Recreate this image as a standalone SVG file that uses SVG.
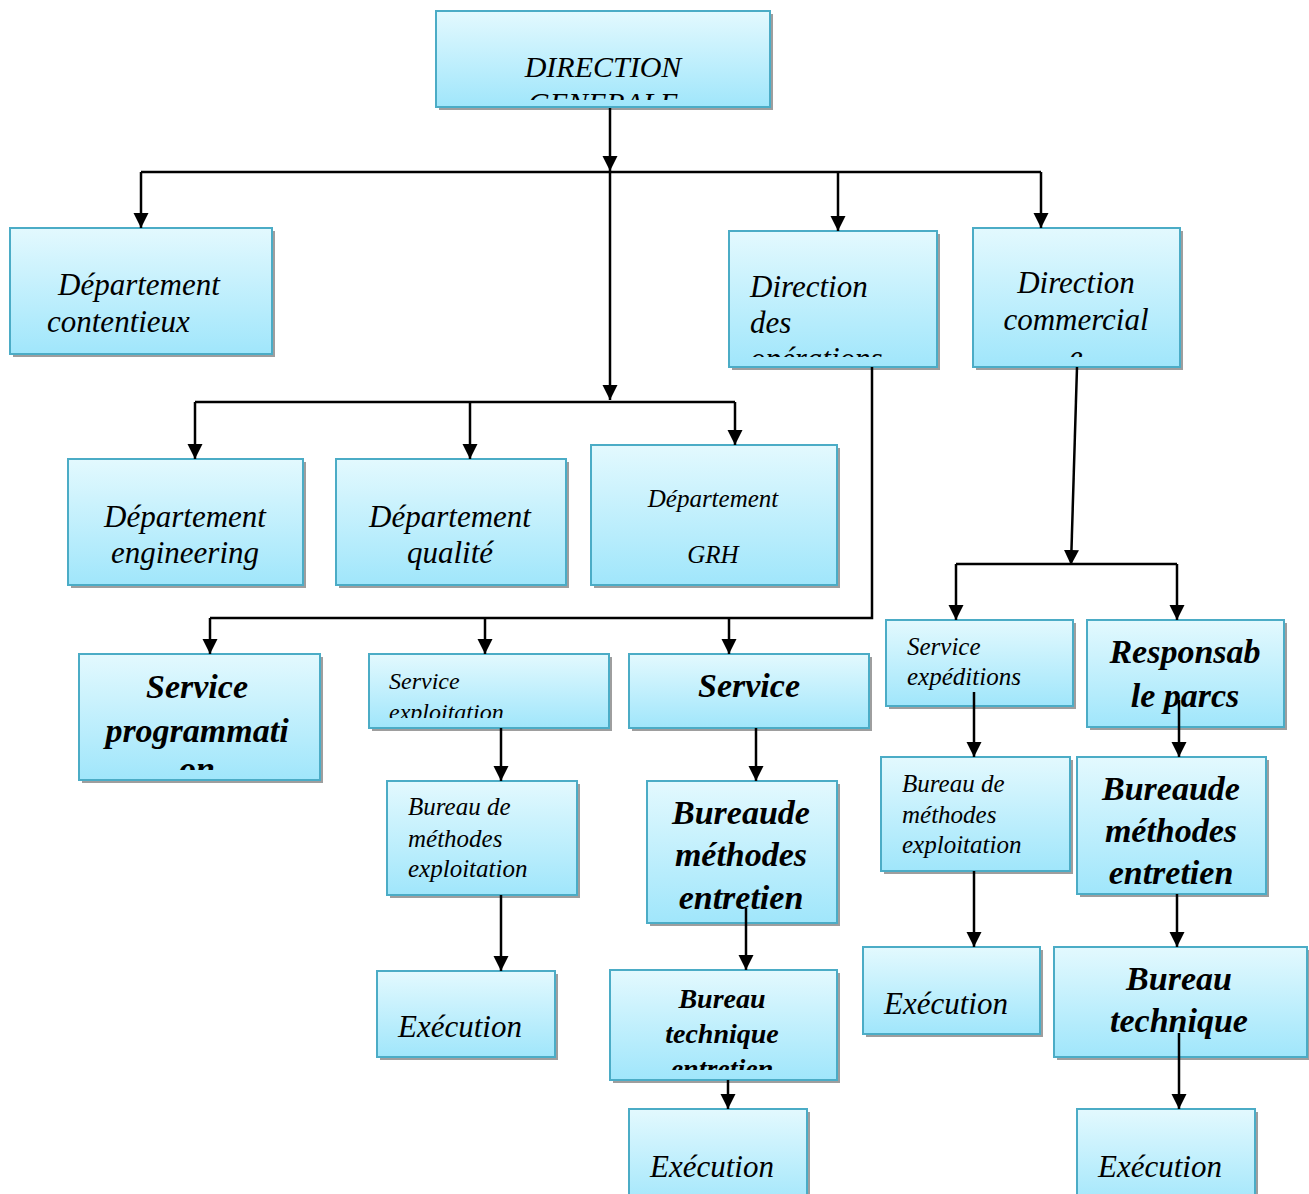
<svg xmlns="http://www.w3.org/2000/svg" width="1309" height="1194" viewBox="0 0 1309 1194">
<style>
.bx{fill:url(#g);stroke:#4bacc6;stroke-width:2}
.sh{fill:#9e9e9e}
.t{font-family:"Liberation Serif","Times New Roman",serif;font-style:italic;fill:#000}
.b{font-weight:bold}
.c{text-anchor:middle}
.ln{fill:none;stroke:#000;stroke-width:2.5}
.ar{marker-end:url(#a)}
</style>
<defs>
<linearGradient id="g" x1="0" y1="0" x2="0" y2="1">
<stop offset="0" stop-color="#e3f9fe"/>
<stop offset="1" stop-color="#a0e6fb"/>
</linearGradient>
<marker id="a" markerUnits="userSpaceOnUse" markerWidth="16" markerHeight="16" refX="15" refY="8" orient="auto">
<path d="M0,0.5 L15,8 L0,15.5 z" fill="#000"/>
</marker>
<clipPath id="cDG"><rect x="436" y="11" width="334" height="89"/></clipPath>
<clipPath id="cDO"><rect x="729" y="231" width="208" height="126"/></clipPath>
<clipPath id="cDC"><rect x="973" y="228" width="207" height="129"/></clipPath>
<clipPath id="cSP"><rect x="79" y="654" width="241" height="116"/></clipPath>
<clipPath id="cSE"><rect x="369" y="654" width="240" height="64"/></clipPath>
<clipPath id="cBT"><rect x="610" y="970" width="227" height="100"/></clipPath>
</defs>
<rect width="1309" height="1194" fill="#fff"/>

<g id="direction-generale">
<rect class="sh" x="439" y="14" width="334" height="96"/>
<rect class="bx" x="436" y="11" width="334" height="96"/>
<g clip-path="url(#cDG)">
<text class="t c" x="603" y="77" font-size="30">DIRECTION</text>
<text class="t c" x="603" y="113" font-size="30">GENERALE</text>
</g>
</g>

<g id="dep-contentieux">
<rect class="sh" x="13" y="231" width="262" height="126"/>
<rect class="bx" x="10" y="228" width="262" height="126"/>
<text class="t" x="58" y="295" font-size="31">Département</text>
<text class="t" x="47" y="332" font-size="31">contentieux</text>
</g>

<g id="direction-operations">
<rect class="sh" x="732" y="234" width="208" height="136"/>
<rect class="bx" x="729" y="231" width="208" height="136"/>
<g clip-path="url(#cDO)">
<text class="t" x="750" y="297" font-size="31">Direction</text>
<text class="t" x="750" y="333" font-size="31">des</text>
<text class="t" x="750" y="369" font-size="31">opérations</text>
</g>
</g>

<g id="direction-commerciale">
<rect class="sh" x="976" y="231" width="207" height="139"/>
<rect class="bx" x="973" y="228" width="207" height="139"/>
<g clip-path="url(#cDC)">
<text class="t c" x="1076" y="293" font-size="31">Direction</text>
<text class="t c" x="1076" y="330" font-size="31">commercial</text>
<text class="t c" x="1076" y="367" font-size="31">e</text>
</g>
</g>

<g id="dep-engineering">
<rect class="sh" x="71" y="462" width="235" height="126"/>
<rect class="bx" x="68" y="459" width="235" height="126"/>
<text class="t c" x="185" y="527" font-size="31">Département</text>
<text class="t c" x="185" y="563" font-size="31">engineering</text>
</g>

<g id="dep-qualite">
<rect class="sh" x="339" y="462" width="230" height="126"/>
<rect class="bx" x="336" y="459" width="230" height="126"/>
<text class="t c" x="450" y="527" font-size="31">Département</text>
<text class="t c" x="450" y="563" font-size="31">qualité</text>
</g>

<g id="dep-grh">
<rect class="sh" x="594" y="448" width="246" height="140"/>
<rect class="bx" x="591" y="445" width="246" height="140"/>
<text class="t c" x="713" y="507" font-size="25">Département</text>
<text class="t c" x="713" y="563" font-size="25">GRH</text>
</g>

<g id="service-programmation">
<rect class="sh" x="82" y="657" width="241" height="126"/>
<rect class="bx" x="79" y="654" width="241" height="126"/>
<g clip-path="url(#cSP)">
<text class="t b c" x="197" y="698" font-size="34">Service</text>
<text class="t b c" x="197" y="742" font-size="34">programmati</text>
<text class="t b c" x="197" y="780" font-size="34">on</text>
</g>
</g>

<g id="service-exploitation">
<rect class="sh" x="372" y="657" width="240" height="74"/>
<rect class="bx" x="369" y="654" width="240" height="74"/>
<g clip-path="url(#cSE)">
<text class="t" x="389" y="689" font-size="24">Service</text>
<text class="t" x="389" y="720" font-size="24">exploitation</text>
</g>
</g>

<g id="service-maintenance">
<rect class="sh" x="632" y="657" width="240" height="74"/>
<rect class="bx" x="629" y="654" width="240" height="74"/>
<text class="t b c" x="749" y="697" font-size="34">Service</text>
</g>

<g id="service-expeditions">
<rect class="sh" x="889" y="623" width="187" height="86"/>
<rect class="bx" x="886" y="620" width="187" height="86"/>
<text class="t" x="907" y="655" font-size="25">Service</text>
<text class="t" x="907" y="685" font-size="25">expéditions</text>
</g>

<g id="responsable-parcs">
<rect class="sh" x="1090" y="623" width="197" height="107"/>
<rect class="bx" x="1087" y="620" width="197" height="107"/>
<text class="t b c" x="1185" y="663" font-size="34">Responsab</text>
<text class="t b c" x="1185" y="707" font-size="34">le parcs</text>
</g>

<g id="bureau-methodes-exploitation-1">
<rect class="sh" x="390" y="784" width="190" height="114"/>
<rect class="bx" x="387" y="781" width="190" height="114"/>
<text class="t" x="408" y="815" font-size="25">Bureau de</text>
<text class="t" x="408" y="847" font-size="25">méthodes</text>
<text class="t" x="408" y="877" font-size="25">exploitation</text>
</g>

<g id="bureau-methodes-entretien-1">
<rect class="sh" x="650" y="784" width="190" height="142"/>
<rect class="bx" x="647" y="781" width="190" height="142"/>
<text class="t b c" x="741" y="824" font-size="34">Bureaude</text>
<text class="t b c" x="741" y="866" font-size="34">méthodes</text>
<text class="t b c" x="741" y="909" font-size="34">entretien</text>
</g>

<g id="bureau-methodes-exploitation-2">
<rect class="sh" x="884" y="760" width="189" height="114"/>
<rect class="bx" x="881" y="757" width="189" height="114"/>
<text class="t" x="902" y="792" font-size="25">Bureau de</text>
<text class="t" x="902" y="823" font-size="25">méthodes</text>
<text class="t" x="902" y="853" font-size="25">exploitation</text>
</g>

<g id="bureau-methodes-entretien-2">
<rect class="sh" x="1080" y="760" width="189" height="137"/>
<rect class="bx" x="1077" y="757" width="189" height="137"/>
<text class="t b c" x="1171" y="800" font-size="34">Bureaude</text>
<text class="t b c" x="1171" y="842" font-size="34">méthodes</text>
<text class="t b c" x="1171" y="884" font-size="34">entretien</text>
</g>

<g id="execution-1">
<rect class="sh" x="380" y="974" width="178" height="86"/>
<rect class="bx" x="377" y="971" width="178" height="86"/>
<text class="t" x="398" y="1037" font-size="31">Exécution</text>
</g>

<g id="bureau-technique-entretien">
<rect class="sh" x="613" y="973" width="227" height="110"/>
<rect class="bx" x="610" y="970" width="227" height="110"/>
<g clip-path="url(#cBT)">
<text class="t b c" x="722" y="1008" font-size="28">Bureau</text>
<text class="t b c" x="722" y="1043" font-size="28">technique</text>
<text class="t b c" x="722" y="1078" font-size="28">entretien</text>
</g>
</g>

<g id="execution-2">
<rect class="sh" x="866" y="950" width="177" height="87"/>
<rect class="bx" x="863" y="947" width="177" height="87"/>
<text class="t" x="884" y="1014" font-size="31">Exécution</text>
</g>

<g id="bureau-technique">
<rect class="sh" x="1057" y="950" width="253" height="110"/>
<rect class="bx" x="1054" y="947" width="253" height="110"/>
<text class="t b c" x="1179" y="990" font-size="34">Bureau</text>
<text class="t b c" x="1179" y="1032" font-size="34">technique</text>
</g>

<g id="execution-3">
<rect class="sh" x="632" y="1112" width="178" height="100"/>
<rect class="bx" x="629" y="1109" width="178" height="100"/>
<text class="t" x="650" y="1177" font-size="31">Exécution</text>
</g>

<g id="execution-4">
<rect class="sh" x="1080" y="1112" width="178" height="100"/>
<rect class="bx" x="1077" y="1109" width="178" height="100"/>
<text class="t" x="1098" y="1177" font-size="31">Exécution</text>
</g>

<g id="connectors" class="ln">
<path class="ar" d="M610 108 V171"/>
<path class="ar" d="M610 171 V400"/>
<path d="M141 172 H1041"/>
<path class="ar" d="M141 172 V228"/>
<path class="ar" d="M838 172 V231"/>
<path class="ar" d="M1041 172 V228"/>
<path d="M195 402 H735"/>
<path class="ar" d="M195 402 V459"/>
<path class="ar" d="M470 402 V459"/>
<path class="ar" d="M735 402 V445"/>
<path d="M872 367 V618 H210"/>
<path class="ar" d="M210 618 V654"/>
<path class="ar" d="M485 618 V654"/>
<path class="ar" d="M729 618 V654"/>
<path class="ar" d="M1077 367 L1071 565"/>
<path d="M956 564 H1177"/>
<path class="ar" d="M956 564 V620"/>
<path class="ar" d="M1177 564 V620"/>
<path class="ar" d="M501 728 V781"/>
<path class="ar" d="M756 728 V781"/>
<path class="ar" d="M974 692 V757"/>
<path class="ar" d="M1179 700 V757"/>
<path class="ar" d="M501 895 V971"/>
<path class="ar" d="M746 908 V970"/>
<path class="ar" d="M974 871 V947"/>
<path class="ar" d="M1177 894 V947"/>
<path class="ar" d="M728 1080 V1109"/>
<path class="ar" d="M1179 1033 V1109"/>
</g>
</svg>
